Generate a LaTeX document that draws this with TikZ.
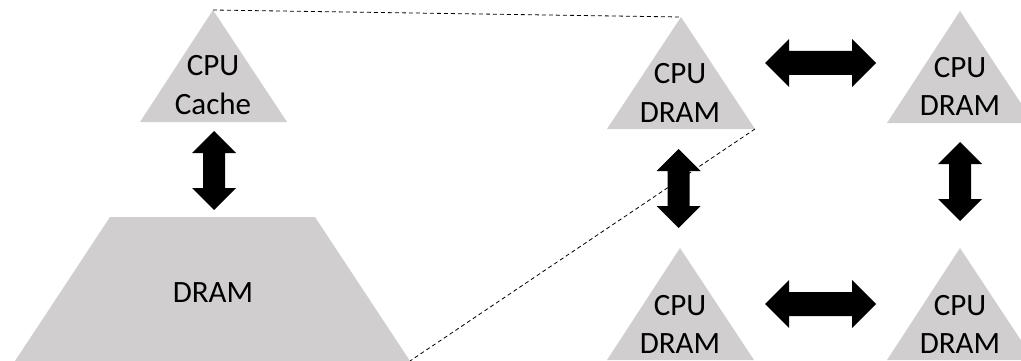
\documentclass[tikz,border=0pt]{standalone}
\usepackage{fontspec}
\setmainfont{Carlito}
\definecolor{shade}{RGB}{208,206,206}
\tikzset{
  shapefill/.style={fill=shade,draw=none},
  blockarrow/.style={fill=black,draw=none},
  zoomline/.style={draw=black,line width=0.8pt,dash pattern=on 4pt off 3pt},
  lbl/.style={align=center,inner sep=0pt,font=\fontsize{31}{38.5}\selectfont},
}
\newcommand{\vdarrow}[3]{% cx, ytop, ybottom
  \fill[blockarrow] (#1,#2) -- (#1+22,#2+22) -- (#1+11,#2+22) -- (#1+11,#3-22) -- (#1+22,#3-22)
    -- (#1,#3) -- (#1-22,#3-22) -- (#1-11,#3-22) -- (#1-11,#2+22) -- (#1-22,#2+22) -- cycle;}
\newcommand{\hdarrow}[3]{% cy, xleft, xright
  \fill[blockarrow] (#2,#1) -- (#2+24,#1-24) -- (#2+24,#1-12) -- (#3-24,#1-12) -- (#3-24,#1-24)
    -- (#3,#1) -- (#3-24,#1+24) -- (#3-24,#1+12) -- (#2+24,#1+12) -- (#2+24,#1+24) -- cycle;}
\begin{document}
\begin{tikzpicture}[x=1pt,y=-1pt]
\useasboundingbox (0,0) rectangle (1021,361);
% named corners
\coordinate (cacheTop) at (213,10);
\coordinate (tlTop) at (681,17);
\coordinate (tlRight) at (755,129);
\coordinate (trapBR) at (410,361);
% shapes
\fill[shapefill] (140,122) -- (cacheTop) -- (287,122) -- cycle;
\fill[shapefill] (110,217) -- (315,217) -- (trapBR) -- (15,361) -- cycle;
\fill[shapefill] (607,129) -- (tlTop) -- (tlRight) -- cycle;
\fill[shapefill] (887,123) -- (960,11) -- (1034,123) -- cycle;
\fill[shapefill] (607,360) -- (680,248) -- (754,360) -- cycle;
\fill[shapefill] (887,360) -- (960,248) -- (1034,360) -- cycle;
% labels
\node[lbl] (cache) at (213,85.3) {CPU\\Cache};
\node[lbl] (dram) at (213,292.5) {DRAM};
\node[lbl] (tl) at (680,92.8) {CPU\\DRAM};
\node[lbl] (tr) at (960,86.5) {CPU\\DRAM};
\node[lbl] (bl) at (680,324.5) {CPU\\DRAM};
\node[lbl] (br) at (960,324.5) {CPU\\DRAM};
% block arrows
\vdarrow{214}{131}{210}
\vdarrow{678.5}{149}{228}
\vdarrow{960}{142}{221}
\hdarrow{63}{765}{876}
\hdarrow{304}{765}{876}
% zoom lines
\draw[zoomline] (cacheTop) -- (tlTop);
\draw[zoomline] (tlRight) -- (trapBR);
\end{tikzpicture}
\end{document}
